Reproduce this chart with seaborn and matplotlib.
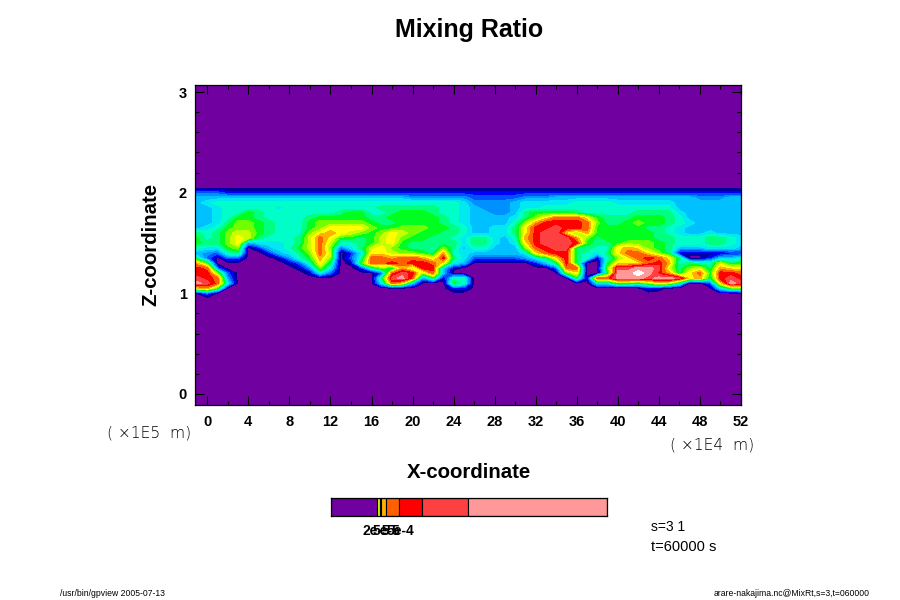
import numpy as np
import matplotlib
matplotlib.use("Agg")
import matplotlib.pyplot as plt
from matplotlib.colors import ListedColormap
import seaborn as sns

title = "Mixing Ratio"
x_label = "X-coordinate"
z_label = "Z-coordinate"
x_ticks = list(range(0, 53, 4))
z_ticks = [0, 1, 2, 3]
x_cols = [-1.2] + list(range(0, 53))
z_rows = [2.10, 2.05, 2.00, 1.95, 1.90, 1.85, 1.80, 1.75, 1.70, 1.65, 1.60, 1.55,
          1.50, 1.45, 1.40, 1.35, 1.30, 1.25, 1.20, 1.15, 1.10, 1.05, 1.00, 0.95]
# Colour class at each grid node (base-20 digit per x column)
field_rows = [
    "00000000000 0000000000 0000000000 0000000000 0000000000 000",
    "00000000000 0000000000 0000000000 0000000000 0000000000 000",
    "33322222222 2222222222 2222222222 2222222222 2222222222 222",
    "55555555555 5555555555 4444443333 3444555555 5555555544 455",
    "56777777777 7777777777 7777764444 5666667777 6666665555 555",
    "55677777677 7777777888 8887765444 5667777777 7777775555 555",
    "55677987777 7778997789 9987765544 5899998777 7788886555 555",
    "55679987777 8999998899 9998765555 68aceeec98 8899987555 555",
    "5568aa98777 9aaaaa9889 9998765555 7adffffea8 89a9987655 555",
    "5679aa98777 9acccca99a aa99875566 8cffgffe99 9998876555 555",
    "878abb98777 acdcba9acb a998875566 8cfggcad99 9999876556 555",
    "978acb87778 bec9989bca 9988768865 7dfgggda89 9999887778 876",
    "988ac466678 beb7789bc9 8888868865 6cfgggf988 9aaa987778 876",
    "7669a025679 bea368bca9 887a857755 5aefgg8877 cdca985556 665",
    "54378002568 aeb026ccba a98d765555 56ceff8768 ceeca81111 122",
    "83033000147 9da037eede edbf863333 3468cf8717 acefec8002 556",
    "d9000000013 7c8019eefe ffec650000 00258f8008 cccefd7877 b89",
    "fe300000001 4a60027a8d aff5100000 00003ee00a gghhgb8ab8 dcc",
    "ffa30000000 16300003eg fae5000000 000009c008 hhihfd8ce9 ffe",
    "gfe40000000 00000008gh e481770000 0000008 1ee hhhghhgcd8 fgf",
    "hge60000000 0000000 6ec 5000970000 0000000066 998acb7003 chg",
    "cd900000000 0000000000 0000220000 0000000000 0002100000 69a",
    "03000000000 0000000000 0000000000 0000000000 0000000000 000",
    "00000000000 0000000000 0000000000 0000000000 0000000000 000",
]
band_colors = ["#7000a0", "#0000a0", "#0000ff", "#0050ff", "#0090ff", "#00c0ff", "#00e8f0",
               "#00ffc8", "#00ff80", "#00ff20", "#70ff00", "#c8ff00", "#ffff00", "#ffb000",
               "#ff6000", "#ff0000", "#ff4040", "#ff9999", "#ffffff"]
# Colour bar
bar_bounds = [0, 46.3, 48.5, 50.3, 55, 68.3, 91.3, 137.3, 275.7]
bar_colors = ["#7000a0", "#c8ff00", "#ffff00", "#ffb000", "#ff6000", "#ff0000", "#ff4040", "#ff9999"]
bar_labels = ["2e-5", "5e-5", "5e-4"]
bar_label_pos = [45, 55, 69]

sns.set_theme(style="ticks")
plt.rcParams["font.family"] = ["Liberation Sans", "DejaVu Sans"]

fig = plt.figure(figsize=(9, 6), dpi=100, facecolor="white")
ax = fig.add_axes([195 / 900, 1 - 405 / 600, 546 / 900, 320 / 600])
ax.set_facecolor(band_colors[0])

field = np.array([[int(c, 20) for c in r.replace(" ", "")] for r in field_rows], dtype=float)
ax.contourf(x_cols, z_rows, field, levels=np.arange(-0.5, 19.5), cmap=ListedColormap(band_colors))
ax.set_xlim(-1.2, 52)
ax.set_ylim(-0.11, 3.07)

ax.set_xticks(x_ticks)
ax.set_xticks(np.arange(0, 53, 2), minor=True)
ax.set_yticks(z_ticks)
ax.set_yticks(np.arange(0, 3.01, 0.2), minor=True)
ax.tick_params(which="major", direction="in", top=True, right=True, length=6.5, width=0.8,
               color="black", labelsize=10.5, pad=7.5, labelcolor="black")
ax.tick_params(which="minor", direction="in", top=True, right=True, length=2.8, width=0.8, color="black")
ax.tick_params(axis="y", which="major", pad=6)
for lab in ax.get_xticklabels() + ax.get_yticklabels():
    lab.set_fontweight("bold")
for s in ax.spines.values():
    s.set_linewidth(0.9)
    s.set_color("black")
    s.set_visible(True)


def put(px, py, text, **kw):
    fig.text(px / 900, 1 - py / 600, text, color="black", **kw)


put(469, 30, title, fontsize=18, fontweight="bold", ha="center", va="center")
put(469, 472, x_label, fontsize=14.7, fontweight="bold", ha="center", va="center")
put(151, 244, z_label, fontsize=14.7, fontweight="bold", ha="center", va="center", rotation=90)
put(149.5, 433, "( \u00d71E5  m)", fontsize=11.2, family="DejaVu Sans", fontweight="light", ha="center", va="center")
put(712, 445, "( \u00d71E4  m)", fontsize=11.2, family="DejaVu Sans", fontweight="light", ha="center", va="center")
put(651, 527, "s=3 1", fontsize=10, fontweight="medium", ha="left", va="center")
put(651, 547, "t=60000 s", fontsize=10.5, fontweight="medium", ha="left", va="center")
put(60, 593, "/usr/bin/gpview 2005-07-13", fontsize=6.2, ha="left", va="center")
put(714, 593, "arare-nakajima.nc@MixRt,s=3,t=060000", fontsize=6.2, ha="left", va="center")

cax = fig.add_axes([331 / 900, 1 - 516 / 600, 276 / 900, 18 / 600])
cax.barh([0] * len(bar_colors), np.diff(bar_bounds), left=bar_bounds[:-1], height=1,
         color=bar_colors, edgecolor="black", linewidth=0.8)
cax.set_xlim(0, 275.7)
cax.set_ylim(-0.5, 0.5)
cax.set_yticks([])
cax.set_xticks(bar_label_pos)
cax.set_xticklabels(bar_labels, fontsize=10, fontweight="bold")
cax.tick_params(axis="x", length=0, pad=6, labelcolor="black")
for s in cax.spines.values():
    s.set_linewidth(0.9)
    s.set_color("black")

fig.savefig("out.png", dpi=100)
